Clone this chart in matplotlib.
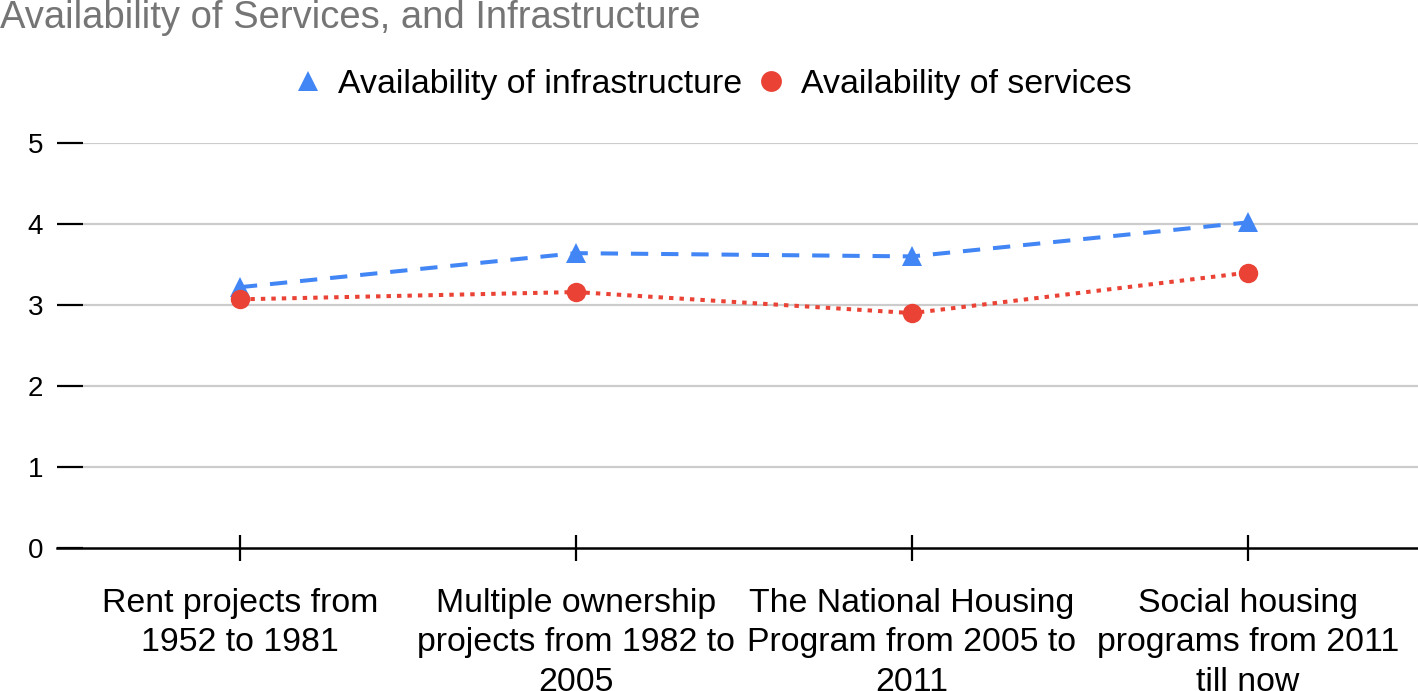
"""
Line chart: availability of services and infrastructure across housing programmes
"""

import matplotlib.pyplot as plt
from matplotlib.lines import Line2D

plt.rcParams['font.family'] = ['Liberation Sans', 'DejaVu Sans']

# Data
categories = [
    "Rent projects from\n1952 to 1981",
    "Multiple ownership\nprojects from 1982 to\n2005",
    "The National Housing\nProgram from 2005 to\n2011",
    "Social housing\nprograms from 2011\ntill now",
]
infrastructure = [3.22, 3.64, 3.60, 4.02]
services = [3.07, 3.16, 2.90, 3.40]
y_ticks = [0, 1, 2, 3, 4, 5]

BLUE = '#4285F4'
RED = '#EA4335'

W, H = 1418, 691
fig = plt.figure(figsize=(W / 100, H / 100), dpi=100)

# axes placed in pixel terms: left 83, right 1418, bottom 548, top 143
ax = fig.add_axes([83 / W, (H - 548) / H, (1418 - 83) / W, (548 - 143) / H])

x = list(range(len(categories)))

ax.plot(x, infrastructure, color=BLUE, linewidth=2.9,
        linestyle=(0, (4.3, 3.2)), marker='^', markersize=15,
        markeredgewidth=0, zorder=3)
ax.plot(x, services, color=RED, linewidth=2.9,
        linestyle=(0, (1.1, 1.5)), marker='o', markersize=14,
        markeredgewidth=0, zorder=4)

ax.set_xlim(-0.467, 3.506)
ax.set_ylim(0, 5)

# grid
for yv in y_ticks[1:]:
    ax.axhline(yv, color='#cccccc', linewidth=1.6, zorder=1)

for side in ['top', 'right', 'left', 'bottom']:
    ax.spines[side].set_visible(False)

# x axis line extends left past the y tick marks
ax.plot([-26 / 1335, 1.0], [0, 0], transform=ax.transAxes, color='black',
        linewidth=1.8, clip_on=False, zorder=5)

ax.set_yticks(y_ticks)
ax.set_yticklabels([str(v) for v in y_ticks], fontsize=20)
ax.tick_params(axis='y', direction='out', length=18.7, width=1.6,
               color='black', pad=10)

ax.set_xticks(x)
ax.set_xticklabels(categories, fontsize=24.4, linespacing=1.36)
ax.tick_params(axis='x', direction='inout', length=19, width=1.6,
               color='black', pad=19)

# title
fig.text(0.0, (H - 28) / H, "Availability of Services, and Infrastructure",
         fontsize=27.5, color='#757575', ha='left', va='baseline')

# legend
handles = [
    Line2D([], [], color=BLUE, marker='^', linestyle='none', markersize=15,
           markeredgewidth=0),
    Line2D([], [], color=RED, marker='o', linestyle='none', markersize=15,
           markeredgewidth=0),
]
fig.legend(handles, ["Availability of infrastructure", "Availability of services"],
           loc='center', bbox_to_anchor=(713 / W, (H - 84) / H), ncol=2,
           frameon=False, fontsize=24.4, handlelength=0.8, handletextpad=0.5,
           columnspacing=0.45)

fig.savefig('out.png', dpi=100)
